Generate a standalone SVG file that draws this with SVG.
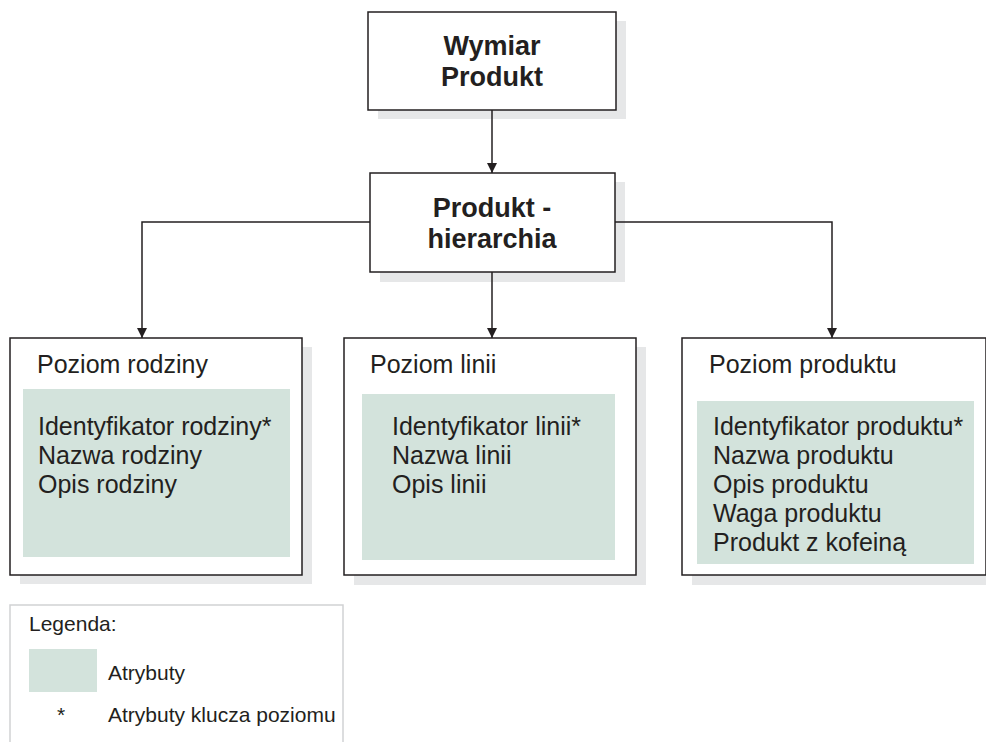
<svg xmlns="http://www.w3.org/2000/svg" width="986" height="742" viewBox="0 0 986 742">
  <style>
    .bg { fill: #ffffff; }
    .shadow { fill: #e6e7e8; }
    .box { fill: #ffffff; stroke: #231f20; stroke-width: 1.5; }
    .attr { fill: #d3e3dc; }
    .title { font-family: "Liberation Sans", Arial, sans-serif; font-weight: bold; font-size: 27px; fill: #231f20; text-anchor: middle; }
    .label { font-family: "Liberation Sans", Arial, sans-serif; font-size: 25px; fill: #231f20; }
    .legend-text { font-family: "Liberation Sans", Arial, sans-serif; font-size: 21px; fill: #231f20; }
    .wire { fill: none; stroke: #231f20; stroke-width: 1.5; }
  </style>
  <defs>
    <marker id="arrow" viewBox="0 0 10 10" refX="10" refY="5" markerWidth="10" markerHeight="10" markerUnits="userSpaceOnUse" orient="auto">
      <path d="M0,0 L10,5 L0,10 Z" fill="#231f20"/>
    </marker>
  </defs>

  <rect class="bg" x="0" y="0" width="986" height="742"/>

  <!-- Dimension node -->
  <g id="wymiar-produkt">
    <rect class="shadow" x="378" y="21" width="248" height="98"/>
    <rect class="box" x="368" y="12" width="248" height="98"/>
    <text class="title" x="492" y="55">Wymiar</text>
    <text class="title" x="492" y="86">Produkt</text>
  </g>

  <!-- Hierarchy node -->
  <g id="produkt-hierarchia">
    <rect class="shadow" x="380" y="182" width="245" height="100"/>
    <rect class="box" x="370" y="173" width="245" height="99"/>
    <text class="title" x="492" y="217">Produkt -</text>
    <text class="title" x="492" y="248">hierarchia</text>
  </g>

  <!-- Family level -->
  <g id="poziom-rodziny">
    <rect class="shadow" x="20" y="347" width="292" height="237"/>
    <rect class="box" x="10" y="338" width="292" height="237"/>
    <rect class="attr" x="23" y="389" width="267" height="168"/>
    <text class="label" x="37" y="373">Poziom rodziny</text>
    <text class="label" x="38" y="435">Identyfikator rodziny*</text>
    <text class="label" x="38" y="464">Nazwa rodziny</text>
    <text class="label" x="38" y="493">Opis rodziny</text>
  </g>

  <!-- Line level -->
  <g id="poziom-linii">
    <rect class="shadow" x="354" y="347" width="292" height="238"/>
    <rect class="box" x="344" y="338" width="292" height="237"/>
    <rect class="attr" x="362" y="394" width="253" height="166"/>
    <text class="label" x="370" y="373">Poziom linii</text>
    <text class="label" x="392" y="435">Identyfikator linii*</text>
    <text class="label" x="392" y="464">Nazwa linii</text>
    <text class="label" x="392" y="493">Opis linii</text>
  </g>

  <!-- Product level -->
  <g id="poziom-produktu">
    <rect class="shadow" x="692" y="347" width="304" height="238"/>
    <rect class="box" x="682" y="338" width="304" height="237"/>
    <rect class="attr" x="697" y="401" width="277" height="163"/>
    <text class="label" x="709" y="373">Poziom produktu</text>
    <text class="label" x="713" y="435">Identyfikator produktu*</text>
    <text class="label" x="713" y="464">Nazwa produktu</text>
    <text class="label" x="713" y="493">Opis produktu</text>
    <text class="label" x="713" y="522">Waga produktu</text>
    <text class="label" x="713" y="551">Produkt z kofeiną</text>
  </g>

  <!-- Legend -->
  <g id="legenda">
    <rect x="10" y="605" width="333" height="150" fill="#ffffff" stroke="#d1d2d4" stroke-width="1.5"/>
    <text class="legend-text" x="29" y="631">Legenda:</text>
    <rect class="attr" x="29" y="649" width="68" height="43"/>
    <text class="legend-text" x="108" y="680">Atrybuty</text>
    <text class="legend-text" x="57" y="722">*</text>
    <text class="legend-text" x="108" y="722">Atrybuty klucza poziomu</text>
  </g>

  <!-- Connectors -->
  <g id="connectors">
    <path class="wire" d="M492,110 L492,173" marker-end="url(#arrow)"/>
    <path class="wire" d="M370,222 L142,222 L142,338" marker-end="url(#arrow)"/>
    <path class="wire" d="M492,272 L492,338" marker-end="url(#arrow)"/>
    <path class="wire" d="M615,222 L832,222 L832,338" marker-end="url(#arrow)"/>
  </g>
</svg>
